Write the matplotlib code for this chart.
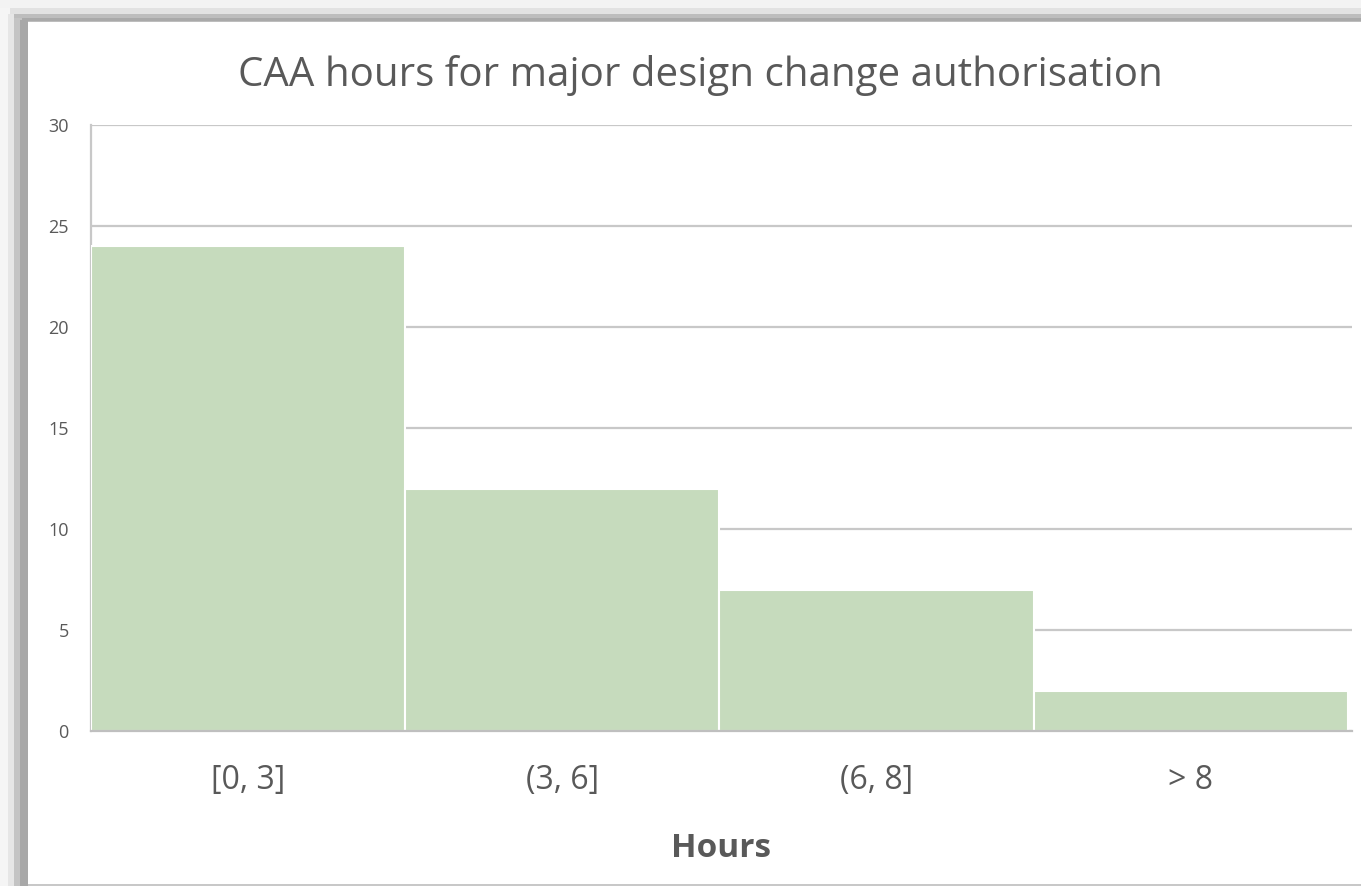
import matplotlib.pyplot as plt
from matplotlib.patches import Rectangle

categories = ['[0, 3]', '(3, 6]', '(6, 8]', '> 8']
counts = [24, 12, 7, 2]
yticks = [0, 5, 10, 15, 20, 25, 30]

W, H = 1361, 886
fig = plt.figure(figsize=(W / 100, H / 100), dpi=100)
fig.patch.set_facecolor('#f5f5f5')

# shadow frame around the excel chart panel
def px(x0, y0, x1, y1, color, z=0):
    fig.patches.append(Rectangle((x0 / W, 1 - y1 / H), (x1 - x0) / W, (y1 - y0) / H,
                                 transform=fig.transFigure, facecolor=color,
                                 edgecolor='none', zorder=z))

px(0, 0, W, 8, '#f3f3f3')
px(10, 8, W, 14, '#e2e2e2')
px(14, 14, W, 22, '#bdbdbd')
px(17, 18, W, 21, '#a9a9a9')
px(8, 14, 14, H, '#e6e6e6')
px(14, 18, 22, H, '#c4c4c4')
px(20, 20, 28, H, '#a8a8a8')
px(28, 22, W, H - 2, 'white', 1)
px(28, H - 2, W, H, '#c8c8c8', 1)

ax = fig.add_axes([91 / W, 1 - 731 / H, (1352 - 91) / W, (731 - 125) / H])
ax.set_zorder(2)
ax.patch.set_alpha(0)

x = range(len(categories))
ax.bar(x, counts, width=1.0, color='#c6dbbd', edgecolor='white', linewidth=1.5, zorder=3)
ax.set_xlim(-0.5, 3.513)
ax.set_ylim(0, 30)
ax.set_yticks(yticks)
ax.yaxis.grid(True, color='#c8c8c8', linewidth=1.6, zorder=0)
ax.set_axisbelow(True)

for s in ['top', 'right']:
    ax.spines[s].set_visible(False)
ax.spines['left'].set_color('#c8c8c8')
ax.spines['left'].set_linewidth(1.6)
ax.spines['bottom'].set_color('#bfbfbf')
ax.spines['bottom'].set_linewidth(1.6)
ax.spines['bottom'].set_zorder(4)

ax.set_xticks(list(x))
ax.set_xticklabels(categories, fontsize=23, color='#595959', family='Open Sans')
ax.tick_params(axis='x', length=0, pad=24)
ax.tick_params(axis='y', length=0, pad=16, labelsize=13, labelcolor='#595959')
for lab in ax.get_yticklabels():
    lab.set_family('Open Sans')

ax.set_xlabel('Hours', fontsize=24, fontweight='bold', color='#595959',
              family='Open Sans', labelpad=25)
fig.text(700 / W, 1 - 75 / H, 'CAA hours for major design change authorisation',
         ha='center', va='center', fontsize=29, color='#595959', family='Open Sans')

fig.savefig('out.png', dpi=100, facecolor=fig.get_facecolor())
